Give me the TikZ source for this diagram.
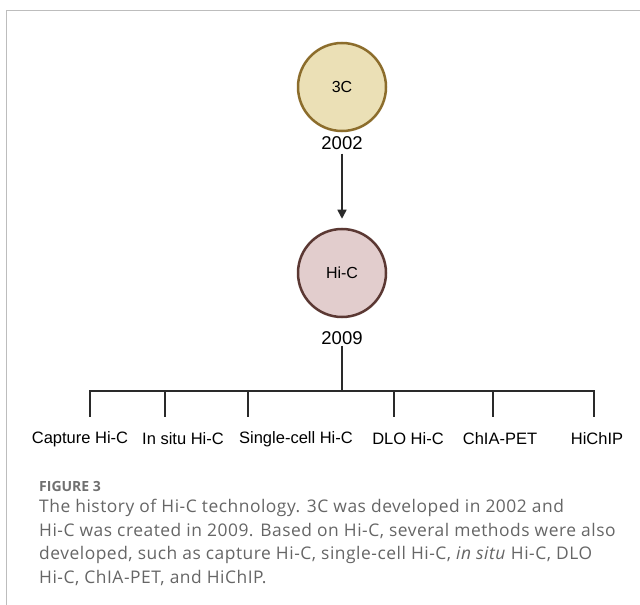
\documentclass[tikz,border=0pt]{standalone}
\usepackage{fontspec}
\setmainfont{Liberation Sans}
\newfontfamily\capfont[LetterSpace=3]{Open Sans}
\newfontfamily\figfont{Open Sans}
\usetikzlibrary{arrows.meta}
\definecolor{framecol}{HTML}{BDBDBD}
\definecolor{tcfill}{HTML}{EBE0B6}
\definecolor{tcdraw}{HTML}{8C6D2C}
\definecolor{hcfill}{HTML}{E2CDCD}
\definecolor{hcdraw}{HTML}{5B3833}
\definecolor{captxt}{HTML}{666666}
\definecolor{figtxt}{HTML}{707070}
\definecolor{linecol}{HTML}{2A2A2A}
\tikzset{
  circ/.style={circle, minimum size=88bp, inner sep=0pt, line width=2.5bp,
    font=\fontsize{16bp}{18bp}\selectfont},
  year/.style={inner sep=2bp, font=\fontsize{18.5bp}{21bp}\selectfont},
  meth/.style={inner sep=1bp, font=\fontsize{16.5bp}{19bp}\selectfont},
  treeline/.style={linecol, line width=1.8bp},
  capline/.style={anchor=west, inner sep=0pt, text=captxt,
    font=\capfont\fontsize{17.4bp}{20bp}\selectfont},
}
\begin{document}
\begin{tikzpicture}[x=1bp,y=-1bp]
\useasboundingbox (0,0) rectangle (640,605);
\fill[white] (0,0) rectangle (640,605);
\draw[framecol, line width=1bp] (6.5,605) -- (6.5,10.5) -- (640,10.5);

\node[circ, fill=tcfill, draw=tcdraw] (c3) at (342,87) {3C};
\node[year] (y2002) at (342,143) {2002};
\node[circ, fill=hcfill, draw=hcdraw] (hic) at (342,273) {Hi-C};
\node[year] (y2009) at (342,338) {2009};

\draw[linecol, line width=1.5bp, -{Triangle[length=9bp,width=9bp]},
  shorten <=2bp, shorten >=9bp] (y2002) -- (hic);

\coordinate (bar) at (342,391);
\draw[treeline] (y2009.south) ++(0,-1) -- (bar);

\foreach \i/\x in {1/90,2/165,3/248,4/394,5/493,6/594}{
  \coordinate (t\i) at (\x,391);
  \coordinate (b\i) at (\x,417);
}
\draw[treeline, line cap=rect] (t1) -- (t6);
\foreach \i in {1,...,6}{ \draw[treeline] (t\i) -- (b\i); }

\node[meth] (m1) at (80,439) {Capture Hi-C};
\node[meth] (m2) at (183,439) {In situ Hi-C};
\node[meth] (m3) at (296,439) {Single-cell Hi-C};
\node[meth] (m4) at (408,439) {DLO Hi-C};
\node[meth] (m5) at (500,439) {ChIA-PET};
\node[meth] (m6) at (597,439) {HiChIP};

\node[anchor=west, inner sep=0pt, text=figtxt,
  font=\figfont\fontsize{14bp}{16bp}\selectfont\bfseries] (fig) at (39,486) {FIGURE 3};
\node[capline] (cap1) at (39,508) {The history of Hi-C technology. 3C was developed in 2002 and};
\node[capline] (cap2) at (39,531) {Hi-C was created in 2009. Based on Hi-C, several methods were also};
\node[capline] (cap3) at (39,555) {developed, such as capture Hi-C, single-cell Hi-C, \textit{in situ} Hi-C, DLO};
\node[capline] (cap4) at (39,578) {Hi-C, ChIA-PET, and HiChIP.};
\end{tikzpicture}
\end{document}
